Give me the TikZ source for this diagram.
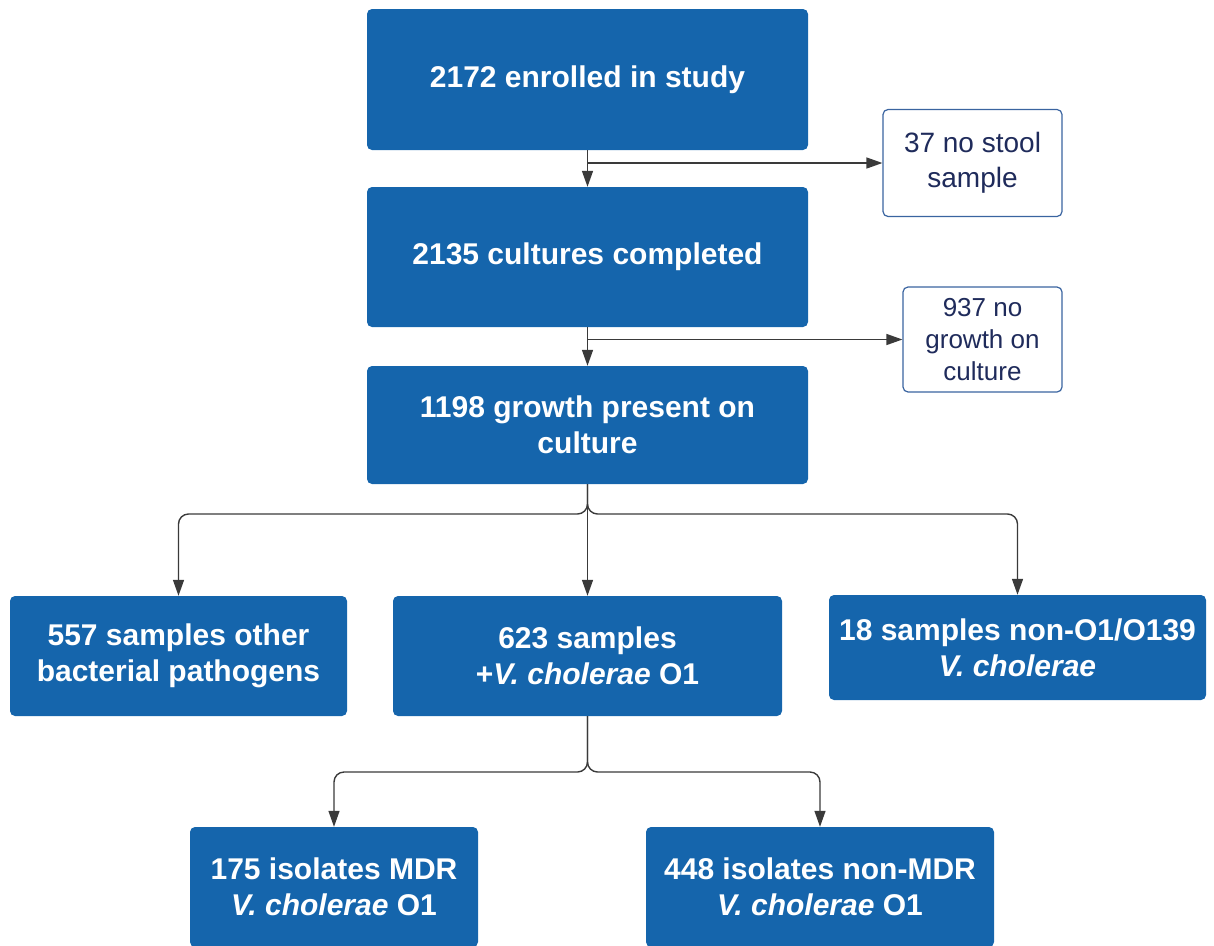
\documentclass[tikz,border=0pt]{standalone}
\usepackage{fontspec}
\setmainfont{Liberation Sans}
\usepackage{xcolor}
\usetikzlibrary{arrows.meta}
\definecolor{boxblue}{HTML}{1565AC}
\definecolor{sidenavy}{HTML}{1F2B5B}
\definecolor{sideedge}{HTML}{3A64A0}
\definecolor{linegray}{HTML}{3A3A3A}

\begin{document}
\begin{tikzpicture}[x=1pt,y=-1pt,
		mainbox/.style={fill=boxblue,draw=none,rounded corners=5pt,text=white,align=center,inner sep=0pt,
			font=\fontsize{30}{36}\selectfont\bfseries},
		sidebox/.style={fill=white,draw=sideedge,line width=1.2pt,rounded corners=5pt,text=sidenavy,align=center,inner sep=0pt},
		flow/.style={draw=linegray,line width=1.4pt,-{Triangle[length=16pt,width=11pt]}}]
		\useasboundingbox (0,0) rectangle (1214,945);
		% main column
		\node[mainbox,minimum width=441pt,minimum height=141pt] (enrolled) at (587.5,79.5) {2172 enrolled in study};
		\node[mainbox,minimum width=441pt,minimum height=140pt] (cultures) at (587.5,257) {2135 cultures completed};
		\node[mainbox,minimum width=441pt,minimum height=118pt] (growth) at (587.5,425) {1198 growth present on\\culture};
		% side boxes
		\node[sidebox,minimum width=179pt,minimum height=107pt,font=\fontsize{28}{35}\selectfont] (nostool) at (972.5,163) {37 no stool\\sample};
		\node[sidebox,minimum width=159pt,minimum height=105pt,font=\fontsize{26}{32}\selectfont] (nogrowth) at (982.5,339.5) {937 no\\growth on\\culture};
		% second row
		\node[mainbox,minimum width=337pt,minimum height=120pt] (other) at (178.5,656) {557 samples other\\bacterial pathogens};
		\node[mainbox,minimum width=389pt,minimum height=120pt] (cholera) at (587.5,656) {623 samples\\+\textit{V. cholerae} O1};
		\node[mainbox,minimum width=377pt,minimum height=105pt] (nonoone) at (1017.5,647.5) {18 samples non-O1/O139\\\textit{V. cholerae}};
		% third row
		\node[mainbox,minimum width=288pt,minimum height=120pt] (mdr) at (334,887) {175 isolates MDR\\\textit{V. cholerae} O1};
		\node[mainbox,minimum width=348pt,minimum height=120pt] (nonmdr) at (820,887) {448 isolates non-MDR\\\textit{V. cholerae} O1};
		% connectors
		\coordinate (split1) at (587.5,163);
		\coordinate (split2) at (587.5,339.5);
		\coordinate (fork1) at (587.5,514);
		\coordinate (fork2) at (587.5,772);
		\draw[flow] (enrolled) -- (cultures);
		\draw[flow] (split1) -- (nostool.west);
		\draw[flow] (cultures) -- (growth);
		\draw[flow] (split2) -- (nogrowth.west);
		\draw[flow] (growth) -- (cholera);
		\draw[flow,rounded corners=10pt] (growth.south) -- (fork1) -- (fork1 -| other.north) -- (other.north);
		\draw[flow,rounded corners=10pt] (growth.south) -- (fork1) -- (fork1 -| nonoone.north) -- (nonoone.north);
		\draw[flow,rounded corners=10pt] (cholera.south) -- (fork2) -- (fork2 -| mdr.north) -- (mdr.north);
		\draw[flow,rounded corners=10pt] (cholera.south) -- (fork2) -- (fork2 -| nonmdr.north) -- (nonmdr.north);
	\end{tikzpicture}
\end{document}
